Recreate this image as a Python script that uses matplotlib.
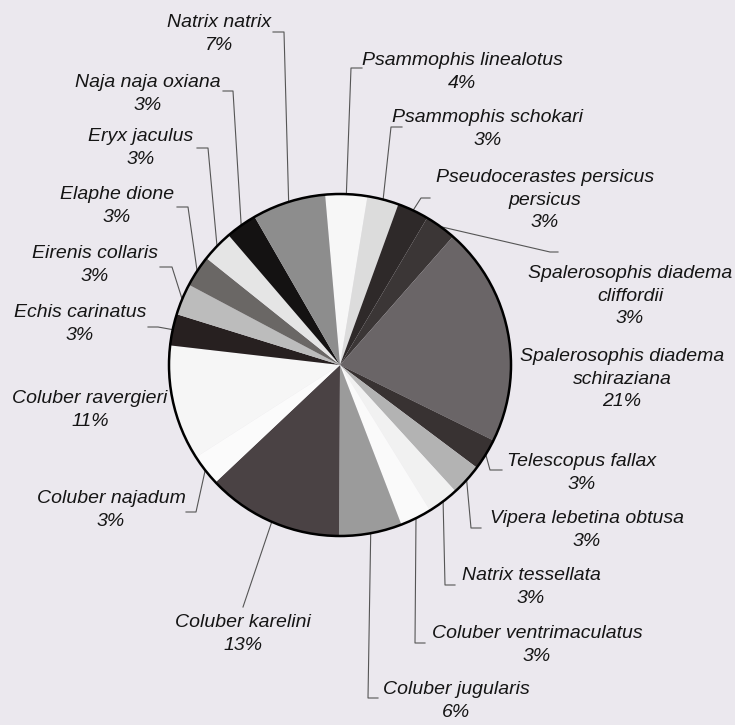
import numpy as np
import matplotlib
matplotlib.use("Agg")
import matplotlib.pyplot as plt
from matplotlib.patches import Circle

W, H = 735, 725

# species and their share (%), clockwise from 12 o'clock
species = ["Psammophis linealotus", "Psammophis schokari",
           "Pseudocerastes persicus\npersicus", "Spalerosophis diadema\ncliffordii",
           "Spalerosophis diadema\nschiraziana", "Telescopus fallax",
           "Vipera lebetina obtusa", "Natrix tessellata", "Coluber ventrimaculatus",
           "Coluber jugularis", "Coluber karelini", "Coluber najadum",
           "Coluber ravergieri", "Echis carinatus", "Eirenis collaris",
           "Elaphe dione", "Eryx jaculus", "Naja naja oxiana", "Natrix natrix"]
percent = [4, 3, 3, 3, 21, 3, 3, 3, 3, 6, 13, 3, 11, 3, 3, 3, 3, 3, 7]

shades = ["#f7f7f7", "#dcdcdc", "#2e2929", "#3b3636", "#6a6567", "#383232",
          "#b3b3b3", "#f1f1f1", "#fafafa", "#9b9b9b", "#4a4244", "#fbfbfb",
          "#f6f6f6", "#272020", "#bcbcbc", "#6a6765", "#e5e5e5", "#141212",
          "#8d8d8d"]

# label layout in picture pixels: text centre, and leader tick (start, end)
label_xy = [(462, 72), (488, 129), (545, 200), (630, 296), (622, 379),
            (582, 473), (587, 530), (531, 587), (537, 645), (456, 701),
            (243, 634), (111, 510), (90, 410), (80, 324), (95, 265),
            (117, 206), (141, 148), (148, 94), (219, 34)]
ticks = [((362, 68), (351, 68)), ((402, 127), (391, 127)),
         ((430, 198), (421, 198)), ((558, 252), (550, 252)), None,
         ((502, 470), (490, 470)), ((481, 528), (471, 528)),
         ((455, 585), (445, 585)), ((425, 643), (415, 643)),
         ((378, 698), (368, 698)), ((243, 607), (243, 607)),
         ((186, 512), (196, 512)), None,
         ((148, 327), (158, 327)), ((160, 267), (172, 267)),
         ((177, 207), (188, 207)), ((197, 148), (208, 148)),
         ((223, 91), (233, 91)), ((273, 32), (284, 32))]

cx, cy, R = 340, 365, 171


def px(x, y):
    return x, H - y


fig = plt.figure(figsize=(W / 100, H / 100), dpi=100)
fig.patch.set_facecolor("#ebe8ee")
ax = fig.add_axes([0, 0, 1, 1])
ax.set_facecolor("#ebe8ee")

wedges, _ = ax.pie(percent, colors=shades, startangle=95, counterclock=False,
                   center=px(cx, cy), radius=R,
                   wedgeprops=dict(linewidth=0))
ax.add_patch(Circle(px(cx, cy), R, fill=False, lw=1.8, ec="black", zorder=5))

for i, w in enumerate(wedges):
    name = species[i]
    tx, ty = label_xy[i]
    ax.text(*px(tx, ty), "%s\n%d%%" % (name, percent[i]), ha="center", va="center",
            fontsize=14, fontstyle="italic", family="Liberation Sans",
            linespacing=1.45, color="#151515")
    if ticks[i] is None:
        continue
    mid = np.deg2rad((w.theta1 + w.theta2) / 2)
    ex = w.center[0] + R * np.cos(mid)
    ey = w.center[1] + R * np.sin(mid)
    (x0, y0), (x1, y1) = ticks[i]
    xs = [x0, x1, ex]
    ys = [H - y0, H - y1, ey]
    ax.plot(xs, ys, color="#555555", lw=0.8, zorder=4)

ax.set_xlim(0, W)
ax.set_ylim(0, H)
ax.set_aspect("equal")
ax.axis("off")

fig.savefig("out.png", dpi=100, facecolor=fig.get_facecolor())
